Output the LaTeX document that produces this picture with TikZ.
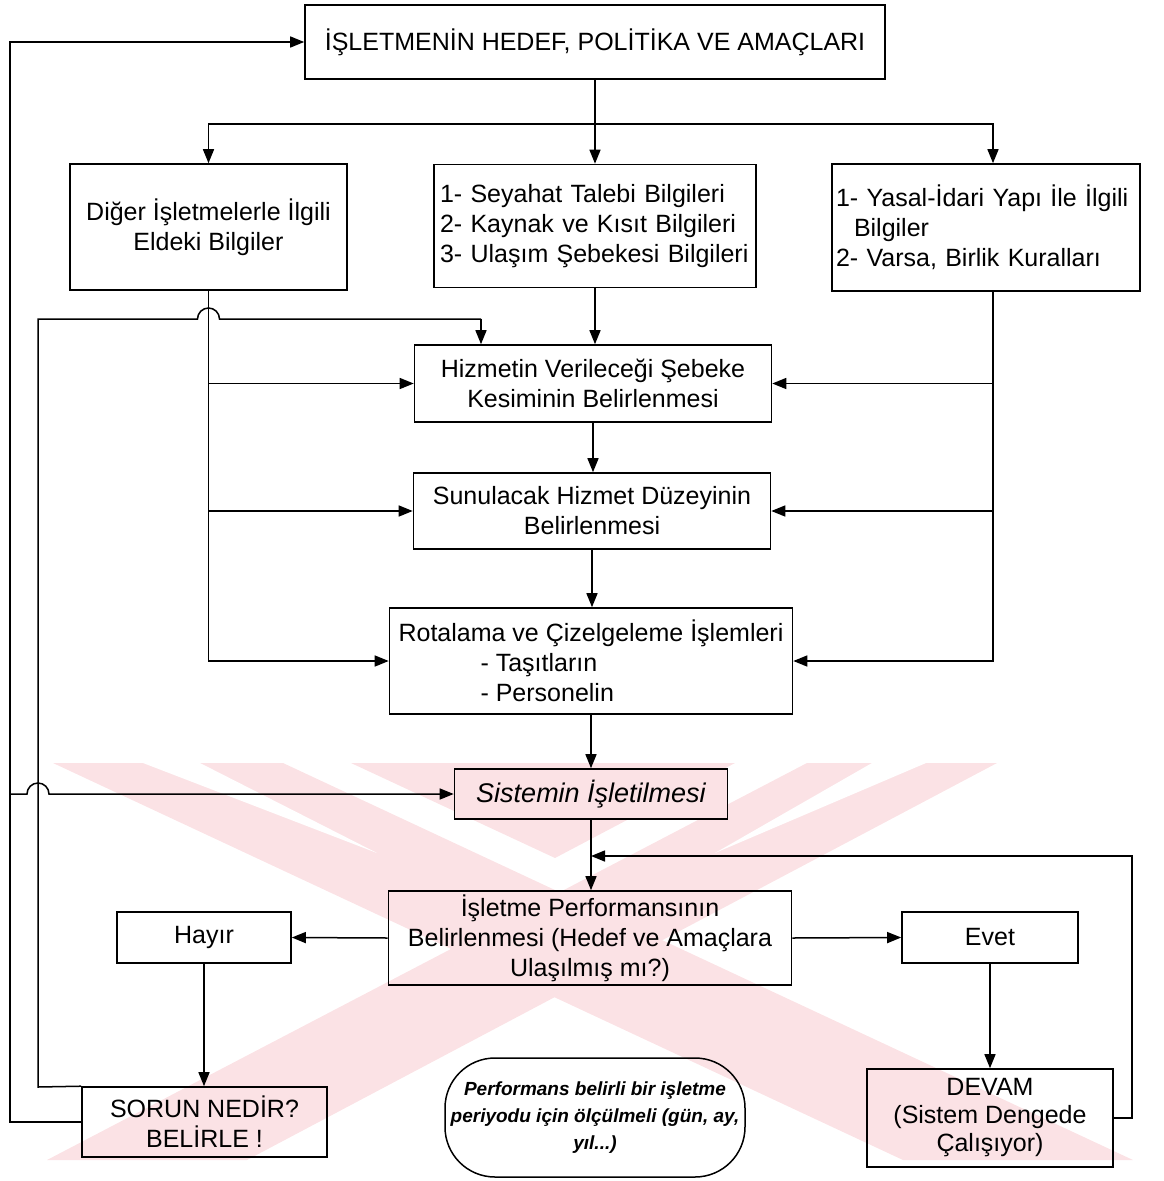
\documentclass[tikz,border=0pt]{standalone}
\usepackage{fontspec}
\setmainfont{Liberation Sans}
\usetikzlibrary{arrows.meta,calc}
\definecolor{wmark}{RGB}{251,226,229}

\begin{document}
\begin{tikzpicture}[x=1pt,y=-1pt,
  box/.style={draw, line width=1.6pt, inner sep=0pt, align=center,
              font=\fontsize{25}{30}\selectfont},
  conn/.style={line width=1.5pt},
  arr/.style={conn, -{Triangle[length=14pt,width=11pt]}},
]
\useasboundingbox (0,0) rectangle (1164,1181);

% faint background emblem
\fill[wmark] (53,763) -- (283,763) -- (1133,1160) -- (903,1160) -- cycle;
\fill[wmark] (807,763) -- (997,763) -- (247,1160) -- (47,1160) -- cycle;
\fill[wmark] (351,763) -- (735,763) -- (555,858) -- cycle;
\fill[white] (143,763) -- (200,763) -- (377,853) -- cycle;
\fill[white] (872,763) -- (926,763) -- (715,853) -- cycle;

% boxes
\node[box, minimum width=580pt, minimum height=74pt] (goal) at (595,42)
  {İŞLETMENİN HEDEF, POLİTİKA VE AMAÇLARI};
\node[box, minimum width=277pt, minimum height=126pt] (other) at (208.5,227)
  {Diğer İşletmelerle İlgili\\Eldeki Bilgiler};
\node[box, align=left, text width=310pt, inner xsep=6pt, minimum height=123pt] (demand) at (595,226)
  {1- Seyahat Talebi Bilgileri\\2- Kaynak ve Kısıt Bilgileri\\3- Ulaşım Şebekesi Bilgileri};
\node[box, align=left, text width=300pt, inner xsep=4pt, minimum height=127pt] (rules) at (986,227.5)
  {1- Yasal-İdari Yapı İle İlgili\\\hspace*{18pt}Bilgiler\\2- Varsa, Birlik Kuralları};
\node[box, minimum width=357pt, minimum height=77pt] (network) at (593,383.5)
  {Hizmetin Verileceği Şebeke\\Kesiminin Belirlenmesi};
\node[box, minimum width=357pt, minimum height=76pt] (level) at (592,511)
  {Sunulacak Hizmet Düzeyinin\\Belirlenmesi};
\node[box, align=left, minimum width=403pt, minimum height=106pt] (routing) at (591,661)
  {Rotalama ve Çizelgeleme İşlemleri\\\hspace*{82pt}- Taşıtların\\\hspace*{82pt}- Personelin};
\node[box, fill=wmark, minimum width=273pt, minimum height=50pt,
      font=\fontsize{27}{30}\selectfont\itshape] (operate) at (591,794)
  {Sistemin İşletilmesi};
\node[box, minimum width=403pt, minimum height=94pt] (perf) at (590,938)
  {İşletme Performansının\\Belirlenmesi (Hedef ve Amaçlara\\Ulaşılmış mı?)};
\node[box, minimum width=174pt, minimum height=51pt] (no) at (204,937.5) {Hayır};
\node[box, minimum width=176pt, minimum height=51pt] (yes) at (990,937.5) {Evet};
\node[box, minimum width=245pt, minimum height=70pt] (problem) at (204.5,1122)
  {SORUN NEDİR?\\BELİRLE !};
\node[box, minimum width=246pt, minimum height=98pt,
      font=\fontsize{25}{28}\selectfont] (goon) at (990,1118)
  {DEVAM\\(Sistem Dengede\\Çalışıyor)};
\node[draw, line width=1.5pt, rounded corners=50pt, align=center, inner sep=0pt,
      minimum width=300pt, minimum height=119pt,
      font=\fontsize{19}{27}\selectfont\bfseries\itshape] (note) at (595,1117.5)
  {Performans belirli bir işletme\\periyodu için ölçülmeli (gün, ay,\\yıl...)};

% distribution from the goals box
\coordinate (split) at (595,124);
\draw[conn] (goal.south) -- (split);
\draw[arr] (split) -| (other.north);
\draw[arr] (split) -- (demand.north);
\draw[arr] (split) -| ($(rules.north)+(7,0)$);

% left information feed
\draw[arr] (other.south) |- (routing.west);
\draw[arr] (other.south |- network.west) -- (network.west);
\draw[arr] (other.south |- level.west) -- (level.west);

% right information feed
\coordinate (rfeed) at ($(rules.south)+(7,0)$);
\draw[arr] (rfeed) |- (routing.east);
\draw[arr] (rfeed |- network.west) -- (network.east);
\draw[arr] (rfeed |- level.west) -- (level.east);

% main chain
\draw[arr] (demand.south) -- (demand.south |- network.north);
\draw[arr] (network.south) -- (network.south |- level.north);
\draw[arr] (level.south) -- (level.south |- routing.north);
\draw[arr] (routing.south) -- (routing.south |- operate.north);
\draw[arr] (operate.south) -- (operate.south |- perf.north);

% decision
\draw[arr] (perf.west) -- (no.east);
\draw[arr] (perf.east) -- (yes.west);
\draw[arr] (no.south) -- (no.south |- problem.north);
\draw[arr] (yes.south) -- (goon.north);

% feedback from DEVAM
\coordinate (fbR) at (1132,856);
\coordinate (fbL) at (operate.south |- fbR);
\draw[arr] (goon.east) -| (fbR) -- (fbL);

% inner loop from the problem box to the network box
\coordinate (lpB) at (38,1087);
\coordinate (lpT) at (38,319);
\coordinate (hopL) at (197.5,319);
\coordinate (hizIn) at (481,319);
\draw[conn] (problem.north west) -- (lpB) -- (lpT) -- (hopL)
  arc[start angle=180, end angle=0, radius=11pt] -- (hizIn);
\draw[arr] (hizIn) -- (hizIn |- network.north);

% outer loop from the problem box to the goals box
\coordinate (oX) at (10,42);
\draw[arr] (problem.west) -| (oX) -- (goal.west);
\coordinate (hop2) at ($(oX |- operate.west)+(17,0)$);
\draw[arr] (oX |- operate.west) -- (hop2)
  arc[start angle=180, end angle=0, radius=11pt] -- (operate.west);
\end{tikzpicture}
\end{document}
